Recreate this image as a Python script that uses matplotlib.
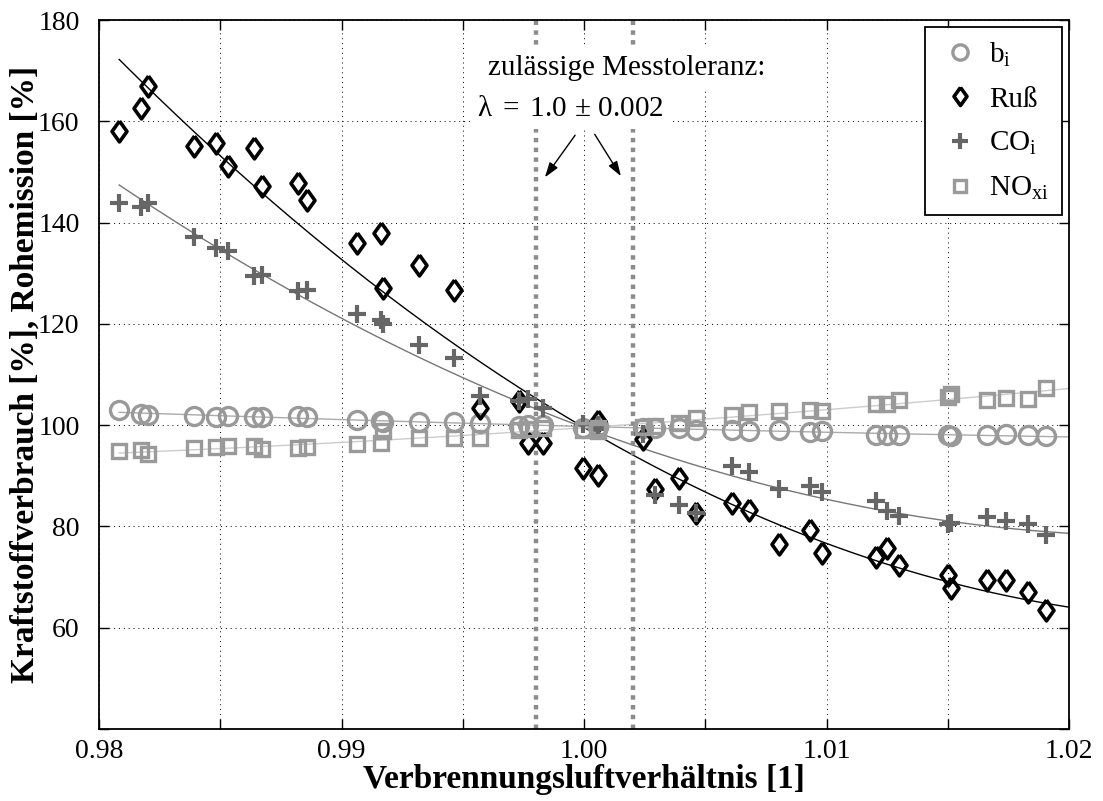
import numpy as np
import matplotlib.pyplot as plt
from matplotlib.lines import Line2D

plt.rcParams['font.family'] = ['Liberation Serif', 'DejaVu Serif']
plt.rcParams['mathtext.fontset'] = 'custom'
plt.rcParams['mathtext.rm'] = 'Liberation Serif'
plt.rcParams['mathtext.it'] = 'Liberation Serif:italic'

# Verbrennungsluftverhaeltnis lambda of each operating point
lam = [0.98083, 0.98173, 0.98202, 0.98391, 0.98482, 0.98531, 0.98640, 0.98670,
       0.98820, 0.98859, 0.99063, 0.99162, 0.99170, 0.99321, 0.99464, 0.99571,
       0.99733, 0.99770, 0.99832, 0.99997, 1.00059, 1.00059, 1.00242, 1.00293,
       1.00392, 1.00460, 1.00611, 1.00681, 1.00803, 1.00932, 1.00982, 1.01204,
       1.01250, 1.01300, 1.01502, 1.01512, 1.01663, 1.01742, 1.01831, 1.01904]

# values in % relative to lambda = 1
b_i = [102.9, 102.2, 102.1, 101.8, 101.6, 101.8, 101.6, 101.6, 101.9, 101.6,
       101.1, 100.9, 100.6, 100.6, 100.6, 100.4, 99.8, 100.1, 100.0, 99.5,
       99.8, 99.6, 99.5, 99.5, 99.5, 99.1, 99.1, 98.8, 99.0, 98.6,
       98.8, 98.0, 98.0, 98.0, 98.1, 97.9, 98.0, 98.3, 98.0, 97.8]
russ = [158.0, 162.7, 166.9, 155.1, 155.7, 151.1, 154.7, 147.3, 147.8, 144.5,
        135.9, 137.9, 127.1, 131.7, 126.7, 103.4, 104.8, 96.5, 96.5, 91.5,
        90.2, 100.8, 97.2, 87.3, 89.6, 82.6, 84.6, 83.2, 76.5, 79.3,
        74.7, 73.9, 75.7, 72.4, 70.4, 67.9, 69.4, 69.4, 67.1, 63.5]
co_i = [143.8, 143.0, 143.8, 137.2, 134.9, 134.3, 129.5, 129.7, 126.5, 126.6,
        122.0, 120.7, 120.0, 115.8, 113.3, 105.7, 104.8, 105.1, 103.4, 100.3,
        99.2, 100.0, 98.2, 86.3, 84.3, 82.6, 91.9, 90.7, 87.3, 87.9,
        86.8, 85.1, 83.1, 82.0, 80.4, 80.6, 81.9, 81.0, 80.4, 78.3]
no_xi = [94.9, 95.0, 94.3, 95.5, 95.6, 95.8, 95.8, 95.2, 95.4, 95.6,
         96.3, 96.5, 98.8, 97.5, 97.5, 97.5, 99.1, 99.3, 99.5, 99.1,
         98.8, 99.5, 99.6, 99.8, 100.5, 101.5, 102.1, 102.5, 102.8, 103.0,
         102.8, 104.2, 104.2, 104.9, 105.6, 106.1, 104.9, 105.4, 105.1, 107.3]

tol_lines = [0.998, 1.002]
xticks = [0.98, 0.985, 0.99, 0.995, 1.0, 1.005, 1.01, 1.015, 1.02]
xtick_labels = ['0.98', '', '0.99', '', '1.00', '', '1.01', '', '1.02']
yticks = [40, 60, 80, 100, 120, 140, 160, 180]

# open diamond a bit wider than matplotlib's thin 'd'
diamond = [(0, 1), (0.72, 0), (0, -1), (-0.72, 0), (0, 1)]

fig = plt.figure(figsize=(11.03, 8.01), dpi=100)
ax = fig.add_axes([0.0898, 0.0899, 0.8794, 0.8851])

lam_arr = np.array(lam)
xfit = np.linspace(lam_arr.min(), 1.02, 200)

# series: values, marker, size, edge width, colour, fit colour
series = [
    (b_i, 'o', 13, 2.4, '#999999', '#aaaaaa'),
    (russ, diamond, 15, 2.6, 'black', 'black'),
    (co_i, '+', 13, 3.0, '#666666', '#777777'),
    (no_xi, 's', 10.5, 2.4, '#9a9a9a', '#cccccc'),
]

for vals, mk, ms, mew, col, fcol in series:
    p = np.polyfit(lam_arr, vals, 2)
    ax.plot(xfit, np.polyval(p, xfit), color=fcol, lw=1.0, zorder=2)

for vals, mk, ms, mew, col, fcol in series:
    if mk == '+':
        ax.plot(lam, vals, ls='none', marker=mk, ms=ms, mew=mew, color=col, zorder=3)
    else:
        ax.plot(lam, vals, ls='none', marker=mk, ms=ms, mew=mew,
                mfc='none', mec=col, zorder=3)

for xv in tol_lines:
    ax.axvline(xv, color='#8c8c8c', lw=3.2, ls=(0, (1, 1.2)), zorder=2.5)

ax.set_xlim(0.98, 1.02)
ax.set_ylim(40, 180)
ax.set_xticks(xticks)
ax.set_xticklabels(xtick_labels)
ax.set_yticks(yticks)
ax.set_yticklabels([''] + [str(v) for v in yticks[1:]])
ax.tick_params(direction='in', length=7, width=1.0, top=True, right=True, labelsize=20)
ax.tick_params(axis='x', pad=7)
ax.tick_params(axis='y', pad=14)
ax.grid(True, color='black', ls=(0, (1, 4)), lw=0.7)
for s in ax.spines.values():
    s.set_linewidth(1.3)

ax.set_xlabel('Verbrennungsluftverhältnis [1]', fontsize=24, fontweight='bold', labelpad=0)
ax.set_ylabel('Kraftstoffverbrauch [%], Rohemission [%]', fontsize=24, fontweight='bold')
ax.yaxis.set_label_coords(-0.06, 0.5)

box = dict(facecolor='white', edgecolor='none', pad=5)
ax.text(0.99604, 170.5, 'zulässige Messtoleranz:', fontsize=21,
        ha='left', va='center', zorder=4, bbox=box)
ax.text(0.99559, 162.4, r'$\mathrm{\lambda}\ =\ 1.0\,\pm\,0.002$', fontsize=21,
        ha='left', va='center', zorder=4, bbox=box)
arrow = dict(arrowstyle='-|>,head_length=0.9,head_width=0.3', color='black', lw=1.0)
ax.annotate('', xy=(0.99832, 148.5), xytext=(0.99970, 157.7), arrowprops=arrow, zorder=5)
ax.annotate('', xy=(1.00158, 148.7), xytext=(1.00038, 157.9), arrowprops=arrow, zorder=5)

handles = [
    Line2D([], [], ls='none', marker='o', ms=11, mew=2.4, mfc='none', mec='#999999'),
    Line2D([], [], ls='none', marker=diamond, ms=13, mew=2.6, mfc='none', mec='black'),
    Line2D([], [], ls='none', marker='+', ms=12, mew=3, color='#666666'),
    Line2D([], [], ls='none', marker='s', ms=9, mew=2.4, mfc='none', mec='#9a9a9a'),
]
labels = [r'b$_\mathrm{i}$', 'Ruß', r'CO$_\mathrm{i}$', r'NO$_\mathrm{xi}$']
leg = ax.legend(handles, labels, loc='upper right', fontsize=21, frameon=True,
                fancybox=False, framealpha=1, edgecolor='black', borderaxespad=0.25,
                handletextpad=0.25, labelspacing=0.6, handlelength=1.5, borderpad=0.45)
leg.get_frame().set_linewidth(1.3)
leg.set_zorder(6)

fig.savefig('out.png', dpi=100)
